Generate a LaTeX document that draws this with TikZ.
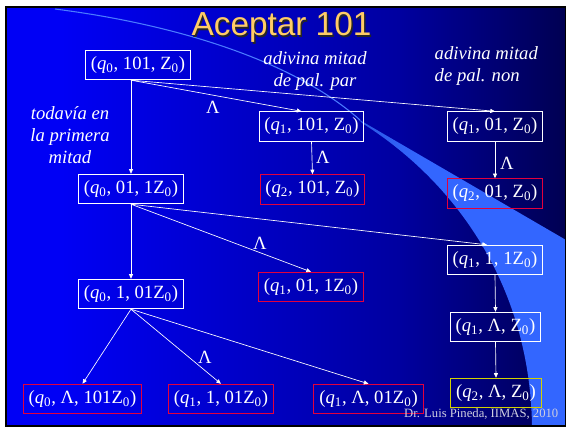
\documentclass[tikz,border=0pt]{standalone}
\usepackage{fontspec}
\setmainfont{Liberation Serif}[ItalicFont={Liberation Serif Italic}]
\newfontfamily\headfont{Liberation Sans}
\newfontfamily\notefont{Liberation Serif Italic}
\usetikzlibrary{arrows.meta,calc}
\definecolor{slideblue}{HTML}{0000F5}
\definecolor{slidemid}{HTML}{0000A0}
\definecolor{slidedark}{HTML}{000038}
\definecolor{slideend}{HTML}{000005}
\definecolor{swoosh}{HTML}{3366FF}
\definecolor{swooshdk}{HTML}{1E3CB4}
\definecolor{swline}{HTML}{4A7BFF}
\definecolor{dead}{HTML}{E4003C}
\definecolor{accept}{HTML}{D2D200}
\definecolor{gold}{HTML}{FFCC66}
\definecolor{credit}{HTML}{D0D0E0}
\pgfdeclarehorizontalshading{slidebg}{100bp}{color(0bp)=(slideblue); color(30bp)=(slideblue); color(60bp)=(slidemid); color(80bp)=(slidedark); color(100bp)=(slideend)}
\pgfdeclarehorizontalshading{swooshshade}{100bp}{color(0bp)=(swooshdk); color(40bp)=(swoosh); color(100bp)=(swoosh)}
\newcommand{\conf}[3]{(\textit{q}\textsubscript{#1}, #2, #3)}
\newcommand{\Zz}{Z\textsubscript{0}}
\tikzset{
  cfg/.style={draw=white, line width=0.8pt, text=white, font=\fontsize{14}{16}\selectfont,
              inner xsep=4pt, inner ysep=0pt, minimum height=22pt},
  deadcfg/.style={cfg, draw=dead},
  acccfg/.style={cfg, draw=accept},
  mv/.style={-{Triangle[length=3.5pt,width=3pt]}, white, line width=0.5pt},
  lam/.style={text=white, font=\fontsize{14}{16}\selectfont},
  note/.style={text=white, font=\notefont\fontsize{14}{17}\selectfont}
}

\begin{document}
\begin{tikzpicture}[x=0.75pt,y=-0.75pt]
  \useasboundingbox (0,0) rectangle (566,426);
  \fill[white] (0,0) rectangle (566,426);
  \shade[shading=slidebg] (6,7) rectangle (566,426);
  \shade[shading=swooshshade] (358,119) -- (566,240) -- (566,426) -- (532,426)
     .. controls (530,290) and (460,185) .. (362,123) -- cycle;
  \draw[swline, line width=0.8pt] (55,9) .. controls (180,25) and (295,62) .. (360,120);
  \draw[black, line width=1.5pt] (6,7) rectangle (566,426);

  \node[text=black!85, font=\headfont\fontsize{25}{28}\selectfont, anchor=base] at (283,37) {Aceptar 101};
  \node[text=gold, font=\headfont\fontsize{25}{28}\selectfont, anchor=base] (title) at (281.5,35) {Aceptar 101};

  \node[cfg] (n0) at (138,65) {\conf{0}{101}{\Zz}};
  \node[cfg] (n1) at (131,189) {\conf{0}{01}{1\Zz}};
  \node[cfg] (n2) at (131,294) {\conf{0}{1}{01\Zz}};
  \node[cfg] (par1) at (311.5,126.5) {\conf{1}{101}{\Zz}};
  \node[deadcfg] (par2) at (312.5,189.5) {\conf{2}{101}{\Zz}};
  \node[cfg] (non1) at (495,126.5) {\conf{1}{01}{\Zz}};
  \node[deadcfg] (non2) at (495,193.5) {\conf{2}{01}{\Zz}};
  \node[cfg] (m1) at (495,260) {\conf{1}{1}{1\Zz}};
  \node[deadcfg] (m2) at (311,287) {\conf{1}{01}{1\Zz}};
  \node[cfg] (m3) at (495.5,327) {\conf{1}{Λ}{\Zz}};
  \node[acccfg] (m4) at (496,393) {\conf{2}{Λ}{\Zz}};
  \node[deadcfg] (b1) at (82.5,399) {\conf{0}{Λ}{101\Zz}};
  \node[deadcfg] (b2) at (221,399) {\conf{1}{1}{01\Zz}};
  \node[deadcfg] (b3) at (368.5,399) {\conf{1}{Λ}{01\Zz}};

  \node[note, align=center] (par) at (315,71) {adivina mitad\\de pal. par};
  \node[note, align=left, anchor=west] (non) at (430,66) {adivina mitad\\de pal. non};
  \node[note, align=center, font=\notefont\fontsize{14}{16.5}\selectfont] (first) at (70,135) {todavía en\\la primera\\mitad};

  \draw[mv] (n0.south -| n1.north) -- (n1.north);
  \draw[mv] (n0.south -| n1.north) -- ([xshift=-7.5pt]par1.north);
  \draw[mv] (n0.south -| n1.north) -- (non1.north);
  \draw[mv] (par1.south) -- (par2.north);
  \draw[mv] (non1.south) -- (non2.north);
  \draw[mv] (n1.south) -- (n2.north);
  \draw[mv] (n1.south) -- (m2.north);
  \draw[mv] (n1.south) -- ([xshift=-6pt]m1.north);
  \draw[mv] (n2.south) -- (b1.north);
  \draw[mv] (n2.south) -- (b2.north);
  \draw[mv] (n2.south) -- (b3.north);
  \draw[mv] (m1.south) -- (m3.north);
  \draw[mv] (m3.south) -- (m4.north);

  \node[lam] (l1) at (213,107) {Λ};
  \node[lam] (l2) at (323,157) {Λ};
  \node[lam] (l3) at (507,163) {Λ};
  \node[lam] (l4) at (260,243) {Λ};
  \node[lam] (l5) at (205,357) {Λ};

  \node[text=credit, font=\fontsize{9.5}{11}\selectfont, anchor=base east] (credit) at (563,417) {Dr. Luis Pineda, IIMAS, 2010};
\end{tikzpicture}
\end{document}
